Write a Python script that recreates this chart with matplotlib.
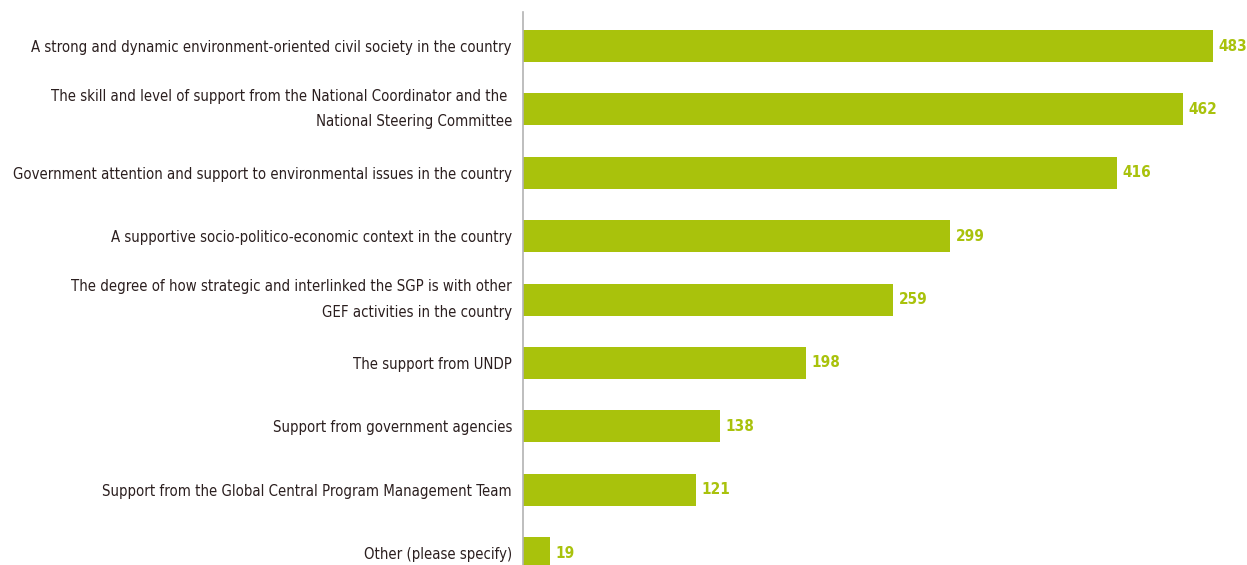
import matplotlib
matplotlib.use('Agg')
import matplotlib.pyplot as plt

categories = [
    'A strong and dynamic environment-oriented civil society in the country',
    'The skill and level of support from the National Coordinator and the \nNational Steering Committee',
    'Government attention and support to environmental issues in the country',
    'A supportive socio-politico-economic context in the country',
    'The degree of how strategic and interlinked the SGP is with other\nGEF activities in the country',
    'The support from UNDP',
    'Support from government agencies',
    'Support from the Global Central Program Management Team',
    'Other (please specify)',
]
values = [483, 462, 416, 299, 259, 198, 138, 121, 19]

bar_color = '#a9c20c'
text_color = '#2b1f1f'

plt.rcParams['font.family'] = ['DejaVu Sans']
plt.rcParams['font.stretch'] = 'condensed'

fig = plt.figure(figsize=(12.47, 5.65), dpi=100)
ax = fig.add_axes([523 / 1247, 0, 724 / 1247, 553 / 565])

pos = list(range(len(values)))
ax.barh(pos, values, height=0.505, color=bar_color)

for p, v in zip(pos, values):
    ax.annotate(str(v), (v, p), xytext=(4, 0), textcoords='offset points',
                va='center', ha='left', color=bar_color, fontsize=11,
                fontweight='bold')

ax.set_xlim(0, 724 / 1.4286)
ax.set_ylim(8.189, -0.5365)
ax.set_yticks(pos)
ax.set_yticklabels(categories, fontsize=10.7, color=text_color,
                   linespacing=1.85)
# two-line labels: center the whole block on the bar
for lbl in ax.get_yticklabels():
    if '\n' in lbl.get_text():
        lbl.set_va('center')
ax.tick_params(axis='y', length=0, pad=8)
ax.set_xticks([])

for s in ['top', 'right', 'bottom']:
    ax.spines[s].set_visible(False)
ax.spines['left'].set_color('#b3b3b3')
ax.spines['left'].set_linewidth(1.2)

fig.savefig('out.png', dpi=100)
